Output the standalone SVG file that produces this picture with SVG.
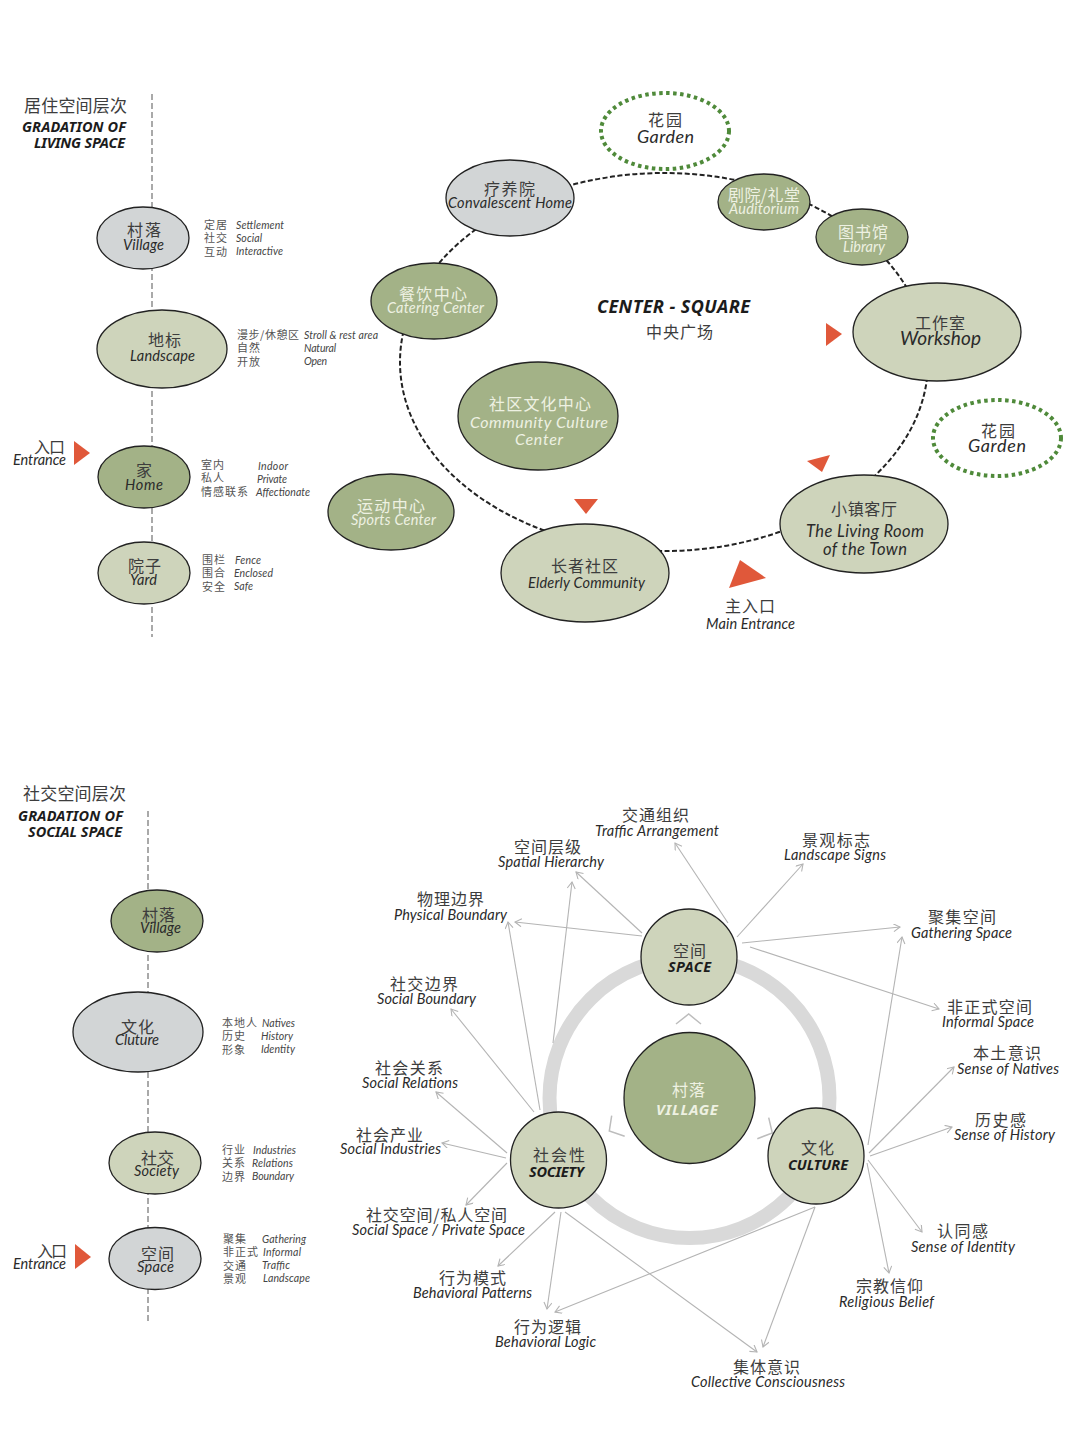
<svg xmlns="http://www.w3.org/2000/svg" width="1080" height="1441" viewBox="0 0 1080 1441">
<style>
text{font-family:"Noto Sans","Noto Sans CJK SC",sans-serif}
.cn{font-family:"Noto Sans CJK SC","Noto Sans",sans-serif;font-size:16px;fill:#3d3d3d}
.s{font-family:"Noto Sans CJK SC","Noto Sans",sans-serif;font-size:11px;fill:#555}
.en{font-family:Lato,"Noto Sans",sans-serif;font-style:italic;font-size:14.5px;fill:#2a2a2a}
.e{font-family:Lato,"Noto Sans",sans-serif;font-style:italic;font-size:10.5px;fill:#444}
.b{font-style:italic;font-weight:700;font-size:14.5px;fill:#1c1c1c}
.w{fill:#eef1e2}
.n{stroke:#222;stroke-width:1.3}
.dk{fill:#a3b287}.lt{fill:#ced4bb}.gy{fill:#d2d5d6}
.gd{fill:#fff;stroke:#4f8a3a;stroke-width:4;stroke-dasharray:3.5 3.5}
.tri{fill:#e0583a}
.ax{fill:none;stroke:#a9a9a9;stroke-width:2;stroke-dasharray:6 3}
.ln{fill:none;stroke:#b4b4b4;stroke-width:1.1;marker-end:url(#ah)}
.ch{fill:none;stroke:#bdbdbd;stroke-width:1.5}
</style>
<defs><marker id="ah" markerUnits="userSpaceOnUse" markerWidth="10" markerHeight="10" refX="7.5" refY="4" orient="auto"><path d="M1 0L7.5 4L1 8" fill="none" stroke="#b4b4b4" stroke-width="1.1"/></marker></defs>
<rect width="1080" height="1441" fill="#fff"/>
<g id="connectors">
<path class="ax" d="M152 94V637"/>
<path class="ax" d="M148 811V1323"/>
<ellipse cx="664" cy="362" rx="264" ry="189" fill="none" stroke="#222" stroke-width="2" stroke-dasharray="5 2.5"/>
<circle cx="689.5" cy="1098" r="140" fill="none" stroke="#d9d9d9" stroke-width="14"/>
<path class="ch" d="M676 1024L688.7 1014L701 1024"/>
<path class="ch" d="M611.7 1115.7L609.3 1131L624.7 1136.3"/>
<path class="ch" d="M768.7 1117.7L772.3 1133L757.3 1138.7"/>
<path class="ln" d="M728 923L675 843"/><path class="ln" d="M642 933L576 872"/><path class="ln" d="M642 936L515 922"/>
<path class="ln" d="M553 1043L572 882"/><path class="ln" d="M540 1110L508 922"/><path class="ln" d="M534 1112L451 1009"/>
<path class="ln" d="M507 1153L436 1092"/><path class="ln" d="M506 1158L442 1143"/><path class="ln" d="M507 1163L466 1205"/>
<path class="ln" d="M555 1212L498 1266"/><path class="ln" d="M561 1212L547 1309"/><path class="ln" d="M565 1212L757 1352"/>
<path class="ln" d="M815 1207L555 1312"/><path class="ln" d="M815 1207L763 1347"/><path class="ln" d="M867 1163L889 1273"/>
<path class="ln" d="M868 1160L922 1232"/><path class="ln" d="M870 1156L952 1127"/><path class="ln" d="M869 1153L954 1067"/>
<path class="ln" d="M868 1145L902 937"/><path class="ln" d="M737 937L803 864"/><path class="ln" d="M742 943L900 927"/><path class="ln" d="M750 947L939 1009"/>
</g>
<g id="title-living"><text class="cn" x="24" y="112" textLength="103" style="font-size:17px">居住空间层次</text><text class="b" x="22" y="132" textLength="104">GRADATION OF</text><text class="b" x="34" y="148" textLength="91">LIVING SPACE</text></g>
<g id="l-village"><ellipse class="n gy" cx="143" cy="238" rx="46" ry="31"/><text class="cn" x="127" y="236" textLength="34">村落</text><text class="en" x="123" y="250" textLength="41">Village</text>
<text class="s" x="204" y="229" textLength="23">定居</text><text class="s" x="204" y="242" textLength="23">社交</text><text class="s" x="204" y="256" textLength="23">互动</text><text class="e" x="236" y="229" textLength="48">Settlement</text><text class="e" x="236" y="242" textLength="26">Social</text><text class="e" x="236" y="255" textLength="47">Interactive</text></g>
<g id="l-landscape"><ellipse class="n lt" cx="162" cy="349" rx="65" ry="39"/><text class="cn" x="148" y="346" textLength="33">地标</text><text class="en" x="130" y="361" textLength="65">Landscape</text>
<text class="s" x="237" y="339" textLength="62">漫步/休憩区</text><text class="s" x="237" y="352" textLength="23">自然</text><text class="s" x="237" y="366" textLength="23">开放</text><text class="e" x="304" y="339" textLength="74">Stroll &amp; rest area</text><text class="e" x="304" y="352" textLength="32">Natural</text><text class="e" x="304" y="365" textLength="23">Open</text></g>
<g id="l-home"><ellipse class="n dk" cx="144" cy="477" rx="46" ry="31"/><text class="cn" x="136" y="476">家</text><text class="en" x="125" y="490" textLength="38">Home</text>
<text class="s" x="201" y="469" textLength="23">室内</text><text class="s" x="201" y="482" textLength="23">私人</text><text class="s" x="201" y="496" textLength="47">情感联系</text><text class="e" x="258" y="470" textLength="30">Indoor</text><text class="e" x="257" y="483" textLength="30">Private</text><text class="e" x="256" y="496" textLength="54">Affectionate</text></g>
<g id="l-entrance"><text class="cn" x="34" y="453" textLength="31">入口</text><text class="en" x="13" y="465" textLength="53">Entrance</text><path class="tri" d="M74 441L90 453L74 465Z"/></g>
<g id="l-yard"><ellipse class="n lt" cx="144" cy="573" rx="46" ry="31"/><text class="cn" x="128" y="572" textLength="33">院子</text><text class="en" x="130" y="585" textLength="27">Yard</text>
<text class="s" x="202" y="564" textLength="23">围栏</text><text class="s" x="202" y="577" textLength="23">围合</text><text class="s" x="202" y="591" textLength="23">安全</text><text class="e" x="235" y="564" textLength="26">Fence</text><text class="e" x="234" y="577" textLength="39">Enclosed</text><text class="e" x="234" y="590" textLength="19">Safe</text></g>
<g id="center-title"><text class="b" x="597" y="313" textLength="153" style="font-size:18px">CENTER - SQUARE</text><text class="cn" x="646" y="338" textLength="67">中央广场</text></g>
<g id="garden-1"><ellipse class="gd" cx="665" cy="131" rx="64" ry="38"/><text class="cn" x="648" y="126" textLength="34">花园</text><text class="en" x="637" y="143" textLength="57" style="font-size:18px">Garden</text></g>
<g id="convalescent"><ellipse class="n gy" cx="510" cy="198" rx="64" ry="38"/><text class="cn" x="484" y="195" textLength="51">疗养院</text><text class="en" x="448" y="208" textLength="124">Convalescent Home</text></g>
<g id="catering"><ellipse class="n dk" cx="434" cy="301" rx="63" ry="38"/><text class="cn w" x="399" y="300" textLength="68">餐饮中心</text><text class="en w" x="387" y="313" textLength="97">Catering Center</text></g>
<g id="auditorium"><ellipse class="n dk" cx="764" cy="202" rx="46" ry="28"/><text class="cn w" x="728" y="201" textLength="72">剧院/礼堂</text><text class="en w" x="729" y="214" textLength="70">Auditorium</text></g>
<g id="library"><ellipse class="n dk" cx="862" cy="237" rx="46" ry="28"/><text class="cn w" x="838" y="238" textLength="50">图书馆</text><text class="en w" x="843" y="252" textLength="42">Library</text></g>
<g id="workshop"><ellipse class="n lt" cx="937" cy="332" rx="84" ry="49"/><text class="cn" x="915" y="329" textLength="50">工作室</text><text class="en" x="900" y="345" textLength="81" style="font-size:19px">Workshop</text></g>
<g id="garden-2"><ellipse class="gd" cx="997" cy="438" rx="64" ry="38"/><text class="cn" x="981" y="437" textLength="34">花园</text><text class="en" x="968" y="452" textLength="58" style="font-size:18px">Garden</text></g>
<g id="community"><ellipse class="n dk" cx="538" cy="416" rx="80" ry="54"/><text class="cn w" x="489" y="410" textLength="102">社区文化中心</text><text class="en w" x="470" y="428" textLength="138" style="font-size:16px">Community Culture</text><text class="en w" x="515" y="445" textLength="48" style="font-size:16px">Center</text></g>
<g id="sports"><ellipse class="n dk" cx="391" cy="512" rx="63" ry="38"/><text class="cn w" x="357" y="512" textLength="68">运动中心</text><text class="en w" x="351" y="525" textLength="85">Sports Center</text></g>
<g id="elderly"><ellipse class="n lt" cx="585" cy="573" rx="84" ry="49"/><text class="cn" x="551" y="572" textLength="67">长者社区</text><text class="en" x="528" y="588" textLength="117">Elderly Community</text></g>
<g id="living-room"><ellipse class="n lt" cx="864" cy="524" rx="84" ry="49"/><text class="cn" x="831" y="515" textLength="66">小镇客厅</text><text class="en" x="806" y="537" textLength="118" style="font-size:16.5px">The Living Room</text><text class="en" x="823" y="555" textLength="84" style="font-size:16.5px">of the Town</text></g>
<g id="main-entrance"><path class="tri" d="M740 560L766 578L729 588Z"/><text class="cn" x="725" y="612" textLength="50">主入口</text><text class="en" x="706" y="629" textLength="89">Main Entrance</text></g>
<g id="markers"><path class="tri" d="M826 323L842 334L826 346Z"/><path class="tri" d="M807 461L830 455L822 472Z"/><path class="tri" d="M574 499H598L586 514Z"/></g>
<g id="title-social"><text class="cn" x="23" y="800" textLength="103" style="font-size:17px">社交空间层次</text><text class="b" x="18" y="821" textLength="105">GRADATION OF</text><text class="b" x="28" y="837" textLength="94">SOCIAL SPACE</text></g>
<g id="s-village"><ellipse class="n dk" cx="157" cy="921" rx="46" ry="31"/><text class="cn" x="142" y="921" textLength="33">村落</text><text class="en" x="140" y="933" textLength="41">Village</text></g>
<g id="s-culture"><ellipse class="n gy" cx="138" cy="1032" rx="65" ry="40"/><text class="cn" x="121" y="1033" textLength="33">文化</text><text class="en" x="115" y="1045" textLength="44">Cluture</text>
<text class="s" x="222" y="1027" textLength="35">本地人</text><text class="s" x="222" y="1040" textLength="23">历史</text><text class="s" x="222" y="1054" textLength="23">形象</text><text class="e" x="262" y="1027" textLength="33">Natives</text><text class="e" x="261" y="1040" textLength="32">History</text><text class="e" x="261" y="1053" textLength="34">Identity</text></g>
<g id="s-society"><ellipse class="n lt" cx="155" cy="1163" rx="46" ry="31"/><text class="cn" x="141" y="1164" textLength="33">社交</text><text class="en" x="134" y="1176" textLength="45">Society</text>
<text class="s" x="222" y="1154" textLength="23">行业</text><text class="s" x="222" y="1167" textLength="23">关系</text><text class="s" x="222" y="1181" textLength="23">边界</text><text class="e" x="253" y="1154" textLength="43">Industries</text><text class="e" x="252" y="1167" textLength="41">Relations</text><text class="e" x="252" y="1180" textLength="42">Boundary</text></g>
<g id="s-space"><ellipse class="n gy" cx="155" cy="1258.5" rx="46" ry="31"/><text class="cn" x="141" y="1260" textLength="33">空间</text><text class="en" x="137" y="1272" textLength="37">Space</text>
<text class="s" x="223" y="1243" textLength="23">聚集</text><text class="s" x="223" y="1256" textLength="35">非正式</text><text class="s" x="223" y="1270" textLength="23">交通</text><text class="s" x="223" y="1283" textLength="23">景观</text><text class="e" x="262" y="1243" textLength="44">Gathering</text><text class="e" x="263" y="1256" textLength="38">Informal</text><text class="e" x="262" y="1269" textLength="28">Traffic</text><text class="e" x="263" y="1282" textLength="47">Landscape</text></g>
<g id="s-entrance"><text class="cn" x="37" y="1257" textLength="30">入口</text><text class="en" x="13" y="1269" textLength="53">Entrance</text><path class="tri" d="M75 1244L91 1257L75 1269Z"/></g>
<g id="c-space"><circle class="n lt" cx="689" cy="957" r="48"/><text class="cn" x="673" y="957" textLength="33">空间</text><text class="b" x="668" y="972" textLength="43">SPACE</text></g>
<g id="c-village"><circle class="n dk" cx="689.5" cy="1098" r="65.5"/><text class="cn w" x="672" y="1096" textLength="33">村落</text><text class="b w" x="656" y="1115" textLength="62" style="font-size:15px;fill:#eef1e2">VILLAGE</text></g>
<g id="c-society"><circle class="n lt" cx="558.5" cy="1160" r="48"/><text class="cn" x="533" y="1161" textLength="52">社会性</text><text class="b" x="529" y="1177" textLength="55">SOCIETY</text></g>
<g id="c-culture"><circle class="n lt" cx="816" cy="1156" r="48"/><text class="cn" x="801" y="1154" textLength="33">文化</text><text class="b" x="788" y="1170" textLength="60">CULTURE</text></g>
<g id="labels">
<g id="a-traffic"><text class="cn" x="622" y="821" textLength="67">交通组织</text><text class="en" x="595" y="836" textLength="124">Traffic Arrangement</text></g>
<g id="a-hierarchy"><text class="cn" x="514" y="853" textLength="67">空间层级</text><text class="en" x="498" y="867" textLength="106">Spatial Hierarchy</text></g>
<g id="a-physical"><text class="cn" x="417" y="905" textLength="67">物理边界</text><text class="en" x="394" y="920" textLength="113">Physical Boundary</text></g>
<g id="a-boundary"><text class="cn" x="390" y="990" textLength="68">社交边界</text><text class="en" x="377" y="1004" textLength="99">Social Boundary</text></g>
<g id="a-relations"><text class="cn" x="375" y="1074" textLength="68">社会关系</text><text class="en" x="362" y="1088" textLength="96">Social Relations</text></g>
<g id="a-industries"><text class="cn" x="356" y="1141" textLength="67">社会产业</text><text class="en" x="340" y="1154" textLength="101">Social Industries</text></g>
<g id="a-private"><text class="cn" x="366" y="1221" textLength="141">社交空间/私人空间</text><text class="en" x="352" y="1235" textLength="173">Social Space / Private Space</text></g>
<g id="a-patterns"><text class="cn" x="439" y="1284" textLength="67">行为模式</text><text class="en" x="413" y="1298" textLength="119">Behavioral Patterns</text></g>
<g id="a-logic"><text class="cn" x="514" y="1333" textLength="67">行为逻辑</text><text class="en" x="495" y="1347" textLength="101">Behavioral Logic</text></g>
<g id="a-collective"><text class="cn" x="733" y="1373" textLength="67">集体意识</text><text class="en" x="691" y="1387" textLength="154">Collective Consciousness</text></g>
<g id="a-religious"><text class="cn" x="856" y="1292" textLength="67">宗教信仰</text><text class="en" x="839" y="1307" textLength="95">Religious Belief</text></g>
<g id="a-identity"><text class="cn" x="937" y="1237" textLength="51">认同感</text><text class="en" x="911" y="1252" textLength="104">Sense of Identity</text></g>
<g id="a-history"><text class="cn" x="975" y="1126" textLength="51">历史感</text><text class="en" x="954" y="1140" textLength="101">Sense of History</text></g>
<g id="a-natives"><text class="cn" x="973" y="1059" textLength="68">本土意识</text><text class="en" x="957" y="1074" textLength="102">Sense of Natives</text></g>
<g id="a-informal"><text class="cn" x="947" y="1013" textLength="85">非正式空间</text><text class="en" x="942" y="1027" textLength="92">Informal Space</text></g>
<g id="a-gathering"><text class="cn" x="928" y="923" textLength="68">聚集空间</text><text class="en" x="911" y="938" textLength="101">Gathering Space</text></g>
<g id="a-signs"><text class="cn" x="802" y="846" textLength="68">景观标志</text><text class="en" x="784" y="860" textLength="102">Landscape Signs</text></g>
</g>
</svg>
